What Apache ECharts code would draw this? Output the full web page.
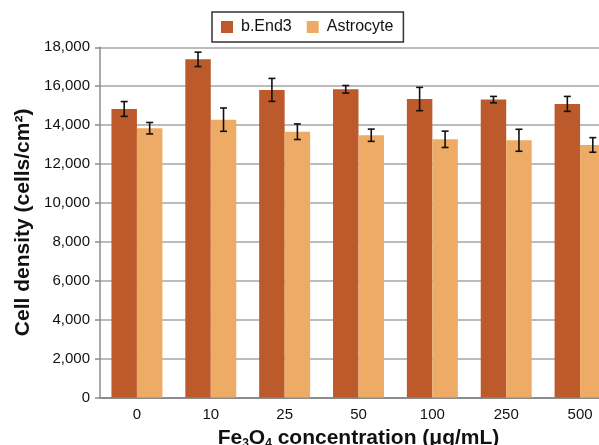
<!DOCTYPE html>
<html>
<head>
<meta charset="utf-8">
<script src="https://cdn.jsdelivr.net/npm/echarts@6/dist/echarts.min.js"></script>
<style>
  html, body { margin: 0; padding: 0; background: #fff; }
  #chart { width: 599px; height: 445px; }
</style>
</head>
<body>
<div id="chart"></div>
<script>
const concentrations = ['0', '10', '25', '50', '100', '250', '500'];
const bEnd3Values = [14830, 17380, 15810, 15840, 15340, 15310, 15090];
const bEnd3Errors = [380, 370, 590, 195, 600, 165, 385];
const astrocyteValues = [13840, 14280, 13660, 13480, 13270, 13220, 12980];
const astrocyteErrors = [295, 600, 400, 315, 420, 565, 375];

const BAR_WIDTH = 0.345;
const FONT = 'Liberation Sans, Arial, sans-serif';

const chart = echarts.init(document.getElementById('chart'));

// error bar drawn over a bar, side -1 = left bar of the pair, 1 = right bar
const errorBarSeries = (name, values, errors, side) => ({
  name: name,
  type: 'custom',
  z: 10,
  silent: true,
  data: values.map((v, i) => [i, v - errors[i], v + errors[i]]),
  renderItem: (params, api) => {
    const band = api.size([1, 0])[0];
    const offset = side * band * BAR_WIDTH / 2;
    const low = api.coord([api.value(0), api.value(1)]);
    const high = api.coord([api.value(0), api.value(2)]);
    const x = low[0] + offset;
    const cap = 3.5;
    const style = { stroke: '#111', lineWidth: 1.6 };
    return {
      type: 'group',
      children: [
        { type: 'line', shape: { x1: x, y1: low[1], x2: x, y2: high[1] }, style },
        { type: 'line', shape: { x1: x - cap, y1: low[1], x2: x + cap, y2: low[1] }, style },
        { type: 'line', shape: { x1: x - cap, y1: high[1], x2: x + cap, y2: high[1] }, style },
      ],
    };
  },
});

chart.setOption({
  animation: false,
  textStyle: { fontFamily: FONT },
  grid: { left: 100, width: 517, top: 47.3, bottom: 47.6, containLabel: false, outerBoundsMode: 'none' },
  legend: {
    data: ['b.End3', 'Astrocyte'],
    left: 212,
    top: 12,
    padding: [7, 10, 7, 9],
    itemWidth: 12,
    itemHeight: 12,
    itemGap: 15,
    icon: 'rect',
    borderColor: '#333',
    borderWidth: 1.5,
    borderRadius: 0,
    textStyle: { fontSize: 16, color: '#111', fontFamily: FONT, padding: [0, 0, 0, 3] },
  },
  xAxis: {
    type: 'category',
    data: concentrations,
    axisLine: { lineStyle: { color: '#8c8c8c', width: 2 } },
    axisTick: { show: false },
    axisLabel: { fontSize: 15, color: '#111', margin: 10, fontFamily: FONT },
    name: 'Fe{s|3}O{s|4} concentration (μg/mL)',
    nameLocation: 'middle',
    nameGap: 28,
    nameTextStyle: {
      fontSize: 21,
      fontWeight: 'bold',
      color: '#111',
      fontFamily: FONT,
      rich: {
        s: { fontSize: 12, fontWeight: 'bold', color: '#111', verticalAlign: 'bottom', padding: [12, 0, 0, 0], fontFamily: FONT },
      },
    },
  },
  yAxis: {
    type: 'value',
    min: 0,
    max: 18000,
    interval: 2000,
    axisLine: { show: true, lineStyle: { color: '#8c8c8c', width: 1.5 } },
    axisTick: { show: true, length: 5, lineStyle: { color: '#8c8c8c', width: 1.5 } },
    splitLine: { lineStyle: { color: '#a6a6a6', width: 1.5 } },
    axisLabel: {
      fontSize: 15,
      color: '#111',
      margin: 10,
      fontFamily: FONT,
      formatter: (v) => v.toLocaleString('en-US'),
    },
    name: 'Cell density (cells/cm²)',
    nameLocation: 'middle',
    nameGap: 66,
    nameTextStyle: { fontSize: 21, fontWeight: 'bold', color: '#111', fontFamily: FONT },
  },
  series: [
    {
      name: 'b.End3',
      type: 'bar',
      data: bEnd3Values,
      barWidth: (BAR_WIDTH * 100) + '%',
      barGap: '0%',
      itemStyle: { color: '#bd5a2c' },
    },
    {
      name: 'Astrocyte',
      type: 'bar',
      data: astrocyteValues,
      barWidth: (BAR_WIDTH * 100) + '%',
      barGap: '0%',
      itemStyle: { color: '#eeab65' },
    },
    errorBarSeries('b.End3 error', bEnd3Values, bEnd3Errors, -1),
    errorBarSeries('Astrocyte error', astrocyteValues, astrocyteErrors, 1),
  ],
});
</script>
</body>
</html>
